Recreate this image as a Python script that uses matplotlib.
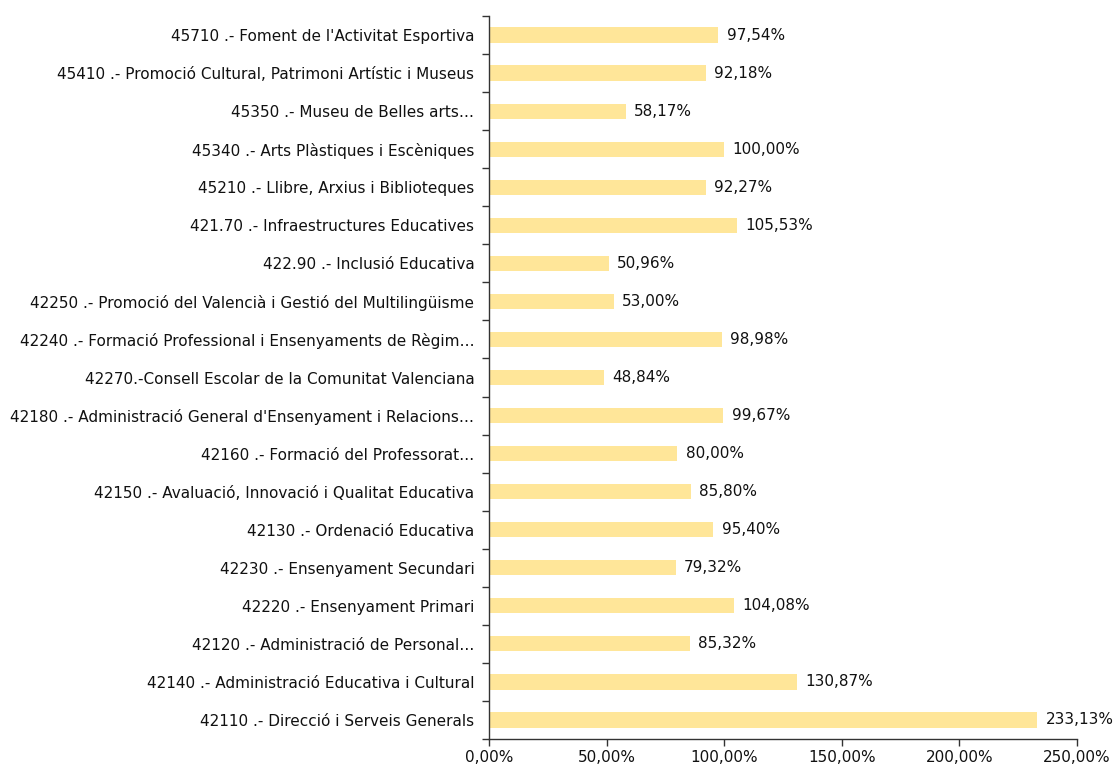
import matplotlib
matplotlib.use("Agg")
import matplotlib.pyplot as plt
from matplotlib.ticker import FixedLocator

# categories listed top to bottom
categories = [
    "45710 .- Foment de l'Activitat Esportiva",
    "45410 .- Promoció Cultural, Patrimoni Artístic i Museus",
    "45350 .- Museu de Belles arts…",
    "45340 .- Arts Plàstiques i Escèniques",
    "45210 .- Llibre, Arxius i Biblioteques",
    "421.70 .- Infraestructures Educatives",
    "422.90 .- Inclusió Educativa",
    "42250 .- Promoció del Valencià i Gestió del Multilingüisme",
    "42240 .- Formació Professional i Ensenyaments de Règim…",
    "42270.-Consell Escolar de la Comunitat Valenciana",
    "42180 .- Administració General d'Ensenyament i Relacions…",
    "42160 .- Formació del Professorat…",
    "42150 .- Avaluació, Innovació i Qualitat Educativa",
    "42130 .- Ordenació Educativa",
    "42230 .- Ensenyament Secundari",
    "42220 .- Ensenyament Primari",
    "42120 .- Administració de Personal…",
    "42140 .- Administració Educativa i Cultural",
    "42110 .- Direcció i Serveis Generals",
]
values = [97.54, 92.18, 58.17, 100.00, 92.27, 105.53, 50.96, 53.00, 98.98,
          48.84, 99.67, 80.00, 85.80, 95.40, 79.32, 104.08, 85.32, 130.87, 233.13]
x_ticks = [0, 50, 100, 150, 200, 250]


def fmt_pct(v):
    return f"{v:.2f}".replace(".", ",") + "%"


plt.rcParams['font.family'] = ['DejaVu Sans']
fs = 11.0
fig = plt.figure(figsize=(11.13, 7.67), dpi=100)
ax = fig.add_axes([0.4394, 0.0365, 0.9677 - 0.4394, 0.9791 - 0.0365])

ypos = list(range(len(categories)))
ax.barh(ypos, values, height=0.4, color="#FFE699", zorder=2)

for y, v in zip(ypos, values):
    ax.annotate(fmt_pct(v), (v, y), xytext=(6, 0), textcoords="offset points",
                va="center", ha="left", fontsize=fs, color="#111111")

ax.set_ylim(len(categories) - 0.5, -0.5)
ax.set_xlim(0, 250)
ax.set_yticks(ypos)
ax.set_yticklabels(categories, fontsize=fs, color="#111111")
ax.tick_params(axis="y", which="major", length=0, pad=10.5)
ax.yaxis.set_minor_locator(FixedLocator([i - 0.5 for i in range(len(categories) + 1)]))
ax.tick_params(axis="y", which="minor", length=5, width=1, color="#333333")

ax.set_xticks(x_ticks)
ax.set_xticklabels([fmt_pct(t) for t in x_ticks], fontsize=fs, color="#111111")
ax.tick_params(axis="x", length=5, width=1, color="#333333", pad=3)

for side in ["top", "right"]:
    ax.spines[side].set_visible(False)
for side in ["left", "bottom"]:
    ax.spines[side].set_color("#333333")
    ax.spines[side].set_linewidth(1)

fig.savefig("out.png", dpi=100)
